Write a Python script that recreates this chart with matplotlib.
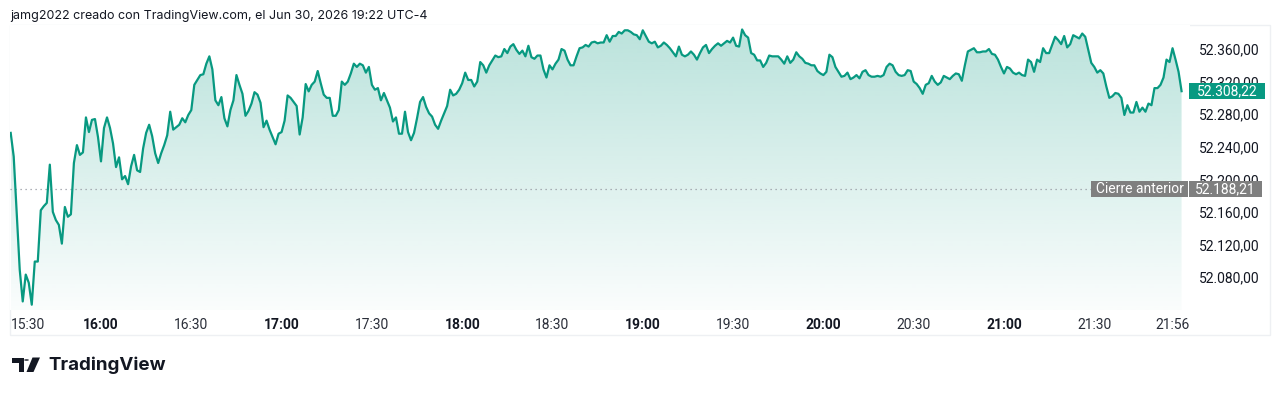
import numpy as np
import matplotlib
matplotlib.use("Agg")
import matplotlib.pyplot as plt
from matplotlib.patches import Rectangle, Circle, Polygon
from matplotlib.colors import to_rgb

plt.rcParams['font.family'] = ['Roboto', 'DejaVu Sans']

# ============================================================
# Data: 1-minute closes from 15:30 to 21:59
# ============================================================

prices = [
    52257, 52228, 52159, 52089, 52050, 52083, 52073, 52046, 52099, 52099,
    52162, 52167, 52171, 52218, 52160, 52150, 52144, 52121, 52166, 52154,
    52157, 52220, 52242, 52230, 52233, 52276, 52258, 52273, 52274, 52252,
    52222, 52263, 52276, 52263, 52244, 52215, 52227, 52200, 52204, 52194,
    52216, 52230, 52211, 52209, 52238, 52257, 52267, 52253, 52232, 52220,
    52232, 52242, 52254, 52283, 52261, 52264, 52267, 52275, 52270, 52279,
    52285, 52316, 52322, 52328, 52329, 52342, 52351, 52335, 52297, 52291,
    52301, 52275, 52265, 52285, 52297, 52328, 52316, 52305, 52278, 52284,
    52293, 52307, 52304, 52294, 52264, 52272, 52261, 52252, 52243, 52256,
    52258, 52272, 52303, 52300, 52295, 52290, 52255, 52276, 52317, 52308,
    52316, 52320, 52333, 52318, 52304, 52300, 52300, 52278, 52278, 52285,
    52320, 52316, 52320, 52330, 52342, 52338, 52342, 52340, 52331, 52338,
    52316, 52310, 52312, 52297, 52306, 52297, 52288, 52271, 52276, 52256,
    52256, 52283, 52258, 52248, 52257, 52275, 52295, 52301, 52289, 52281,
    52277, 52267, 52262, 52272, 52281, 52290, 52310, 52303, 52305, 52310,
    52318, 52331, 52322, 52322, 52314, 52320, 52344, 52340, 52331, 52340,
    52346, 52352, 52350, 52351, 52360, 52355, 52363, 52366, 52359, 52354,
    52358, 52351, 52364, 52350, 52348, 52352, 52352, 52335, 52325, 52340,
    52335, 52342, 52347, 52360, 52358, 52347, 52340, 52340, 52351, 52361,
    52362, 52365, 52363, 52368, 52369, 52367, 52368, 52368, 52377, 52369,
    52376, 52376, 52381, 52379, 52383, 52383, 52381, 52378, 52377, 52372,
    52383, 52376, 52369, 52367, 52369, 52362, 52364, 52368, 52365, 52361,
    52356, 52351, 52363, 52353, 52351, 52353, 52357, 52353, 52347, 52355,
    52362, 52365, 52355, 52360, 52364, 52367, 52364, 52367, 52370, 52368,
    52374, 52364, 52363, 52384, 52377, 52374, 52355, 52353, 52346, 52346,
    52338, 52343, 52352, 52351, 52351, 52351, 52347, 52342, 52351, 52343,
    52347, 52356, 52351, 52348, 52343, 52342, 52340, 52340, 52333, 52330,
    52328, 52332, 52353, 52350, 52338, 52332, 52326, 52327, 52331, 52323,
    52325, 52328, 52324, 52332, 52334, 52328, 52326, 52326, 52327, 52326,
    52328, 52338, 52342, 52340, 52332, 52328, 52327, 52328, 52334, 52333,
    52320, 52317, 52312, 52305, 52316, 52318, 52327, 52320, 52316, 52319,
    52327, 52325, 52323, 52327, 52330, 52329, 52321, 52340, 52357, 52359,
    52361, 52356, 52356, 52357, 52357, 52360, 52354, 52353, 52347, 52338,
    52330, 52338, 52336, 52331, 52329, 52331, 52328, 52327, 52347, 52344,
    52332, 52347, 52344, 52361, 52355, 52355, 52365, 52375, 52371, 52366,
    52376, 52362, 52366, 52377, 52375, 52373, 52379, 52375, 52359, 52343,
    52338, 52331, 52334, 52330, 52314, 52300, 52302, 52306, 52305, 52300,
    52279, 52291, 52282, 52282, 52295, 52283, 52288, 52283, 52293, 52291,
    52312, 52312, 52316, 52325, 52347, 52344, 52361, 52347, 52332, 52308.22,
]
minutes = np.arange(len(prices))

prev_close = 52188.21
last_price = prices[-1]

tick_minutes = [0, 30, 60, 90, 120, 150, 180, 210, 240, 270, 300, 330, 360, 386]
tick_labels = ["15:30", "16:00", "16:30", "17:00", "17:30", "18:00", "18:30",
               "19:00", "19:30", "20:00", "20:30", "21:00", "21:30", "21:56"]
price_ticks = [52080, 52120, 52160, 52200, 52240, 52280, 52320, 52360]

title = "jamg2022 creado con TradingView.com, el Jun 30, 2026 19:22 UTC-4"

LINE = "#089981"
TEXT = "#131722"
GREY_BOX = "#7f7f7f"


def fmt_es(v):
    s = f"{v:,.2f}"
    return s.replace(",", "_").replace(".", ",").replace("_", ".")


# ============================================================
# Figure / axes layout (pixel based)
# ============================================================

W, H = 1280, 394
fig = plt.figure(figsize=(W / 100, H / 100), dpi=100)
fig.patch.set_facecolor("white")

AX_L, AX_R, AX_T, AX_B = 10, 1190, 25, 310
ax = fig.add_axes([AX_L / W, 1 - AX_B / H, (AX_R - AX_L) / W, (AX_B - AX_T) / H])

y_top, y_bot = 52389.5, 52039.5
x_lo, x_hi = -0.23, 391.8

# line
ax.plot(minutes, prices, color=LINE, lw=1.6, zorder=3, solid_joinstyle="round")

# gradient fill under the line
poly = ax.fill_between(minutes, prices, y_bot, color="none", lw=0)
n = 256
rgba = np.zeros((n, 1, 4))
rgba[..., :3] = to_rgb(LINE)
rgba[:, 0, 3] = np.linspace(0.28, 0.02, n)
im = ax.imshow(rgba, extent=[minutes[0], minutes[-1], y_bot, y_top],
               aspect="auto", origin="upper", zorder=1, interpolation="bilinear")
im.set_clip_path(poly.get_paths()[0], transform=ax.transData)

# previous close dotted line
ax.axhline(prev_close, color="#9598a1", lw=0.9, ls=(0, (1, 3)), zorder=2)

ax.set_xlim(x_lo, x_hi)
ax.set_ylim(y_bot, y_top)

for s in ax.spines.values():
    s.set_visible(False)

ax.set_xticks(tick_minutes, tick_labels)
ax.tick_params(axis="x", length=0, pad=6, labelsize=10, labelcolor=TEXT)
for lab in ax.get_xticklabels():
    if lab.get_text().endswith(":00"):
        lab.set_fontweight("bold")
    else:
        lab.set_color("#2a2e39")
ax.get_xticklabels()[0].set_horizontalalignment("left")

ax.yaxis.tick_right()
ax.set_yticks(price_ticks, [fmt_es(v) for v in price_ticks])
ax.tick_params(axis="y", length=0, pad=6.5, labelsize=10, labelcolor=TEXT)

# ============================================================
# Price labels on the right
# ============================================================

px_per_unit = (AX_B - AX_T) / (y_top - y_bot)
ax_w = AX_R - AX_L


def tag(y, text, x0, x1, fc):
    h = 16 / px_per_unit
    r = Rectangle(((x0 - AX_L) / ax_w, y - h / 2), (x1 - x0) / ax_w, h,
                  transform=ax.get_yaxis_transform(), fc=fc, ec="none",
                  clip_on=False, zorder=6)
    ax.add_patch(r)
    ax.text(((x0 + x1) / 2 - AX_L) / ax_w, y, text, transform=ax.get_yaxis_transform(),
            ha="center", va="center", color="white", fontsize=10,
            clip_on=False, zorder=7)


tag(last_price, fmt_es(last_price), 1189, 1265, LINE)
tag(prev_close, "Cierre anterior", 1091, 1188, GREY_BOX)
tag(prev_close, fmt_es(prev_close), 1189, 1262, GREY_BOX)

# ============================================================
# Frame, title and watermark
# ============================================================


def P(x, y):
    return (x / W, 1 - y / H)


frame = Rectangle(P(10, 335), 1260 / W, 310 / H, transform=fig.transFigure,
                  fill=False, ec="#eef0f3", lw=1, zorder=0)
fig.add_artist(frame)

fig.text(10 / W, 1 - 16 / H, title, ha="left", va="center", fontsize=9,
         family=["Inter", "DejaVu Sans"], color=TEXT)

# TradingView logo
logo = "#131722"
fig.add_artist(Polygon([P(12, 357.5), P(24, 357.5), P(24, 372), P(18.5, 372),
                        P(18.5, 363), P(12, 363)], closed=True,
                       transform=fig.transFigure, fc=logo, ec="none"))
fig.add_artist(Circle(P(26.5, 360), 2.4 / W, transform=fig.transFigure,
                      fc=logo, ec="none"))
fig.add_artist(Polygon([P(32.5, 357.5), P(40, 357.5), P(33.5, 372), P(26.5, 372)],
                       closed=True, transform=fig.transFigure, fc=logo, ec="none"))
fig.text(48 / W, 1 - 370.5 / H, "TradingView", ha="left", va="baseline",
         fontsize=13.5, fontweight="bold", family=["Inter", "DejaVu Sans"], color=logo)

fig.savefig("out.png", dpi=100)
